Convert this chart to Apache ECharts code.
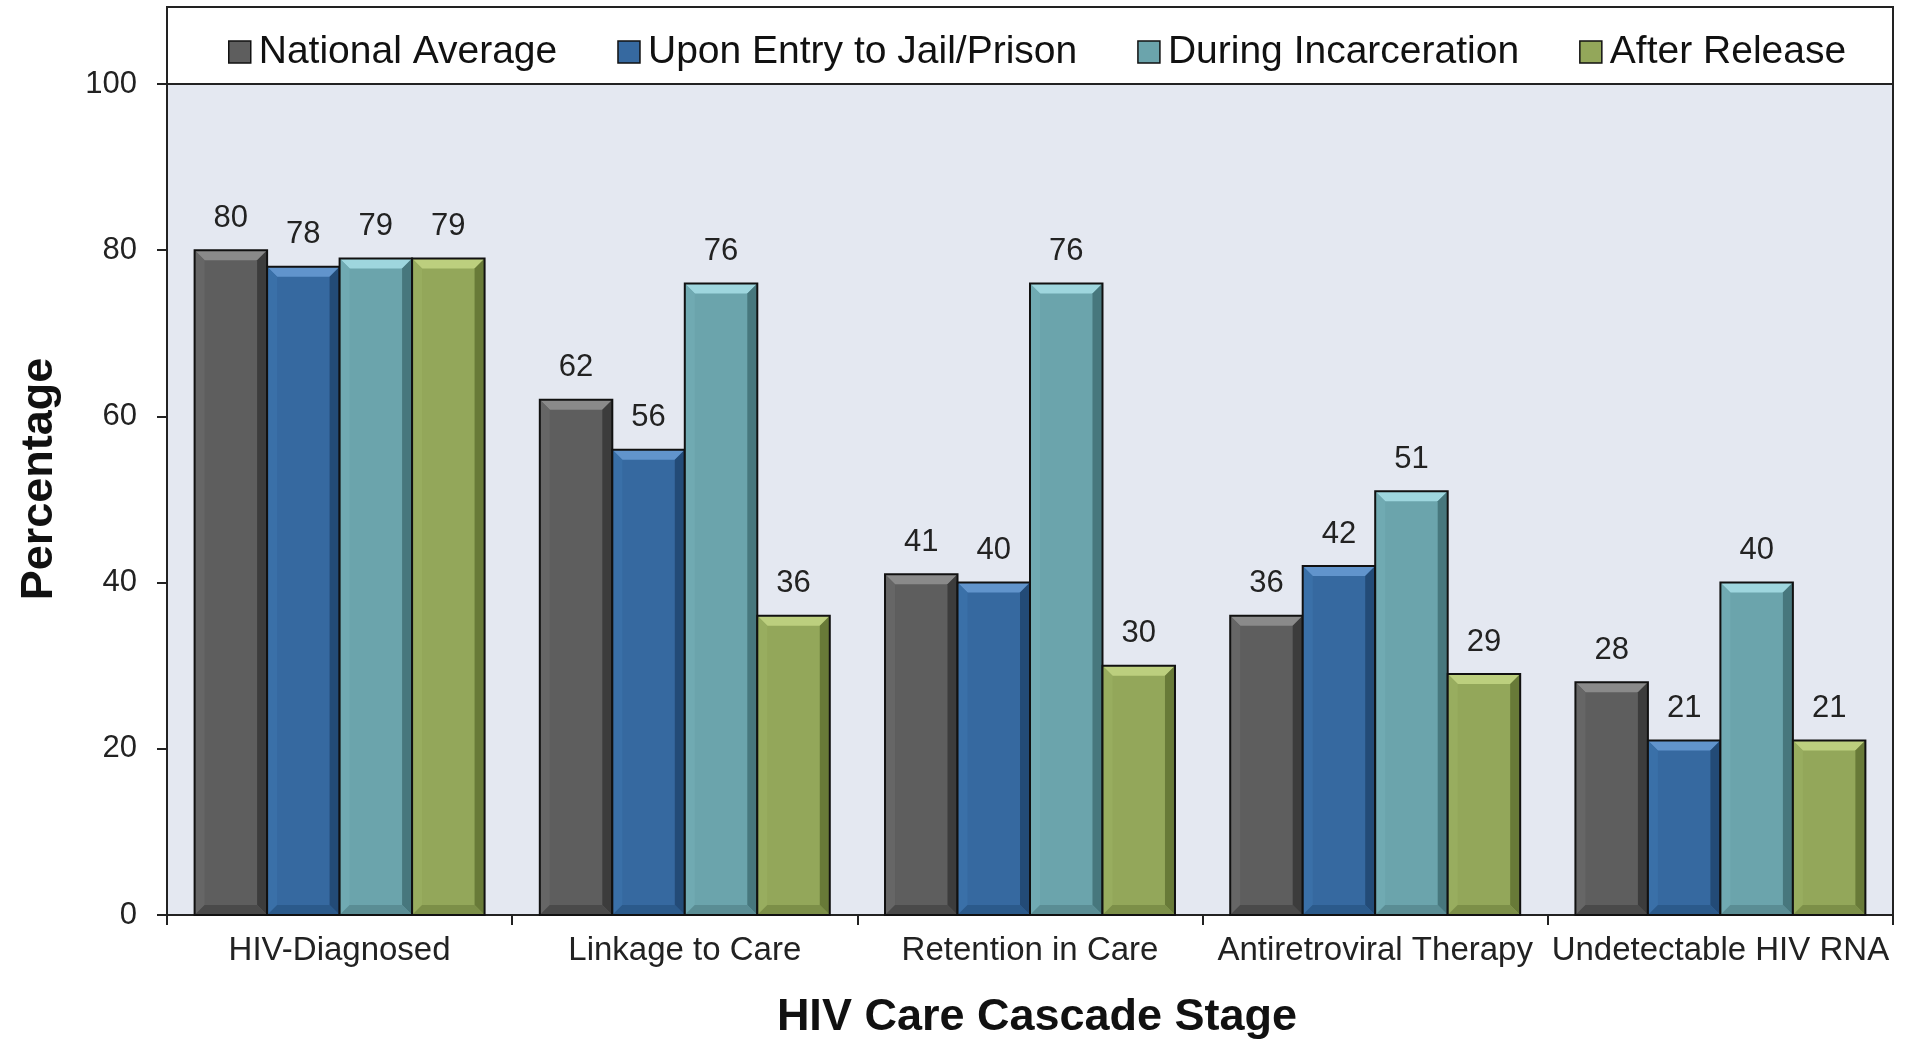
<!DOCTYPE html>
<html>
<head>
<meta charset="utf-8">
<script src="https://cdn.jsdelivr.net/npm/echarts@6/dist/echarts.min.js"></script>
<style>
html,body{margin:0;padding:0;background:#fff;}
#chart{width:1906px;height:1041px;}
</style>
</head>
<body>
<div id="chart"></div>
<script>
const categories = ['HIV-Diagnosed', 'Linkage to Care', 'Retention in Care', 'Antiretroviral Therapy', 'Undetectable HIV RNA'];
const seriesNames = ['National Average', 'Upon Entry to Jail/Prison', 'During Incarceration', 'After Release'];
const nationalAverage = [80, 62, 41, 36, 28];
const uponEntry = [78, 56, 40, 42, 21];
const duringIncarceration = [79, 76, 76, 51, 40];
const afterRelease = [79, 36, 30, 29, 21];
const yTicks = [0, 20, 40, 60, 80, 100];

const seriesValues = [nationalAverage, uponEntry, duringIncarceration, afterRelease];
const palettes = [
  {base: '#5e5e5e', top: '#8a8a8a', left: '#666666', right: '#3c3c3c', bottom: '#4a4a4a'},
  {base: '#3669a0', top: '#6194cc', left: '#3a70a8', right: '#234b77', bottom: '#2b5a8b'},
  {base: '#6ba4ac', top: '#9ed6de', left: '#70aab2', right: '#47777d', bottom: '#5a8d94'},
  {base: '#93a75a', top: '#bccf7e', left: '#98ad5f', right: '#687a38', bottom: '#7c8f48'}
];
const GROUP_FRAC = 0.84;
const BEVEL = 10;

function makeRender(si) {
  const pal = palettes[si];
  return function (params, api) {
    const ci = api.value(0), v = api.value(1);
    const pTop = api.coord([ci, v]);
    const pBase = api.coord([ci, 0]);
    const cw = api.size([1, 0])[0];
    const gw = cw * GROUP_FRAC;
    const bw = gw / 4;
    const x = pTop[0] - gw / 2 + si * bw;
    const y = pTop[1];
    const w = bw;
    const h = pBase[1] - pTop[1];
    const b = Math.min(BEVEL, h / 2);
    return {
      type: 'group',
      children: [
        {type: 'rect', shape: {x: x, y: y, width: w, height: h}, style: {fill: pal.base}},
        {type: 'polygon', shape: {points: [[x, y], [x + w, y], [x + w - b, y + b], [x + b, y + b]]}, style: {fill: pal.top}},
        {type: 'polygon', shape: {points: [[x, y], [x + b, y + b], [x + b, y + h - b], [x, y + h]]}, style: {fill: pal.left}},
        {type: 'polygon', shape: {points: [[x + w, y], [x + w, y + h], [x + w - b, y + h - b], [x + w - b, y + b]]}, style: {fill: pal.right}},
        {type: 'polygon', shape: {points: [[x, y + h], [x + w, y + h], [x + w - b, y + h - b], [x + b, y + h - b]]}, style: {fill: pal.bottom}},
        {type: 'rect', shape: {x: x, y: y, width: w, height: h}, style: {fill: null, stroke: '#111', lineWidth: 2}},
        {type: 'text', style: {text: String(v), x: x + w / 2, y: y - 32, align: 'center', verticalAlign: 'middle',
          fontFamily: 'Liberation Sans, Arial, sans-serif', fontSize: 31, fill: '#222'}}
      ]
    };
  };
}

const chart = echarts.init(document.getElementById('chart'), null, {renderer: 'canvas'});
const option = {
  animation: false,
  backgroundColor: '#ffffff',
  color: palettes.map(p => p.base),
  grid: {left: 167, right: 13, top: 84, bottom: 126, show: true, backgroundColor: '#e4e8f1', borderColor: '#222', borderWidth: 2},
  legend: {
    data: seriesNames,
    left: 223, top: 27,
    itemWidth: 22, itemHeight: 22, itemGap: 60,
    icon: 'rect',
    itemStyle: {borderColor: '#111', borderWidth: 1.5},
    textStyle: {fontFamily: 'Liberation Sans, Arial, sans-serif', fontSize: 39, color: '#111', lineHeight: 40, padding: [0, 0, 0, 3]},
    z: 10
  },
  graphic: [
    {type: 'rect', z: 1, shape: {x: 167, y: 7, width: 1726, height: 77}, style: {fill: '#ffffff', stroke: '#222', lineWidth: 2}},
    {type: 'text', z: 5, x: 40, y: 479, rotation: Math.PI / 2,
      style: {text: 'Percentage', align: 'center', verticalAlign: 'middle', fontFamily: 'Liberation Sans, Arial, sans-serif', fontSize: 45, fontWeight: 'bold', fill: '#111'}},
    {type: 'text', z: 5, x: 1037, y: 1018,
      style: {text: 'HIV Care Cascade Stage', align: 'center', verticalAlign: 'middle', fontFamily: 'Liberation Sans, Arial, sans-serif', fontSize: 45, fontWeight: 'bold', fill: '#111'}}
  ],
  xAxis: {
    type: 'category',
    data: categories,
    boundaryGap: true,
    axisLine: {show: true, lineStyle: {color: '#222', width: 2}},
    axisTick: {show: true, length: 10, interval: 0, lineStyle: {color: '#222', width: 2}},
    axisLabel: {interval: 0, margin: 19, fontFamily: 'Liberation Sans, Arial, sans-serif', fontSize: 33, color: '#222'},
    splitLine: {show: false}
  },
  yAxis: {
    type: 'value',
    min: yTicks[0], max: yTicks[yTicks.length - 1], interval: yTicks[1] - yTicks[0],
    axisLine: {show: true, lineStyle: {color: '#222', width: 2}},
    axisTick: {show: true, length: 10, lineStyle: {color: '#222', width: 2}},
    axisLabel: {margin: 30, fontFamily: 'Liberation Sans, Arial, sans-serif', fontSize: 31, color: '#222'},
    splitLine: {show: false}
  },
  series: seriesValues.map((vals, si) => ({
    type: 'custom',
    name: seriesNames[si],
    itemStyle: {color: palettes[si].base},
    encode: {x: 0, y: 1},
    clip: false,
    renderItem: makeRender(si),
    data: vals.map((v, i) => [i, v])
  }))
};
chart.setOption(option);
</script>
</body>
</html>
